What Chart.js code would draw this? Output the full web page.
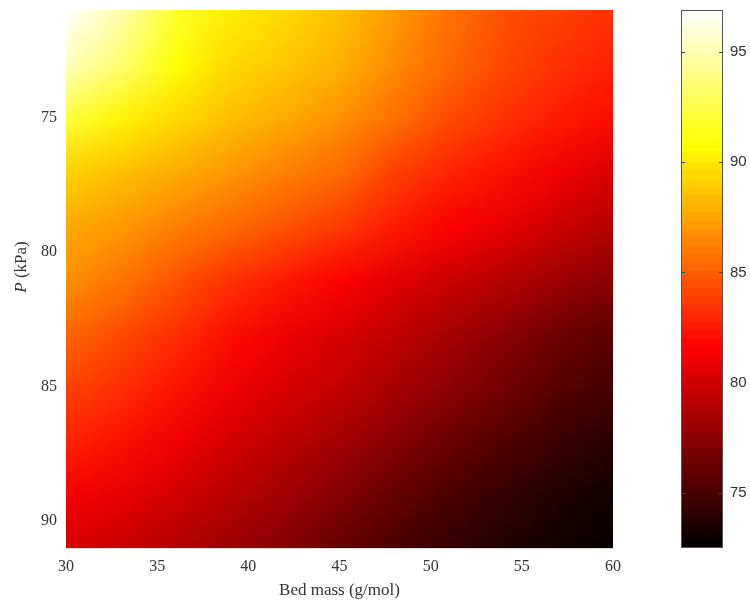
<!DOCTYPE html>
<html>
<head>
<meta charset="utf-8">
<script src="https://cdn.jsdelivr.net/npm/chart.js@4/dist/chart.umd.min.js"></script>
<style>
  html, body { margin: 0; padding: 0; background: #ffffff; }
  #wrap { position: relative; width: 750px; height: 605px; }
  #main { position: absolute; left: 0; top: 0; }
  #cbar { position: absolute; left: 650px; top: 0; }
</style>
</head>
<body>
<div id="wrap">
  <canvas id="main" width="650" height="605"></canvas>
  <canvas id="cbar" width="100" height="605"></canvas>
</div>
<script>
// ---- Data ----
const bedMass = [30, 33, 36, 39, 42, 45, 48, 51, 54, 57, 60];          // x (g/mol)
const pressure = [71, 73, 75, 77, 79, 81, 83, 85, 87, 89, 91];         // y (kPa)
// values at each (pressure row, bedMass column)
const row71 = [96.8, 94.8, 91.8, 90.2, 89.4, 88.5, 87.1, 85.7, 84.5, 83.9, 83.4];
const row73 = [95.2, 93.4, 90.8, 89.4, 88.8, 88.0, 86.6, 85.3, 84.2, 83.4, 82.8];
const row75 = [92.2, 90.4, 89.4, 88.5, 87.7, 86.8, 85.6, 84.3, 83.4, 82.6, 82.0];
const row77 = [89.2, 88.5, 87.8, 87.0, 86.2, 85.4, 83.9, 82.9, 82.2, 81.2, 80.2];
const row79 = [87.7, 87.1, 86.2, 85.4, 84.6, 83.7, 82.6, 81.6, 80.8, 79.8, 79.0];
const row81 = [86.8, 85.8, 84.6, 83.4, 82.5, 81.6, 80.6, 79.8, 79.0, 78.1, 77.4];
const row83 = [85.3, 84.3, 83.3, 82.1, 81.1, 80.3, 79.4, 78.4, 77.5, 76.5, 75.7];
const row85 = [84.0, 83.3, 82.3, 81.1, 80.3, 79.5, 78.5, 77.6, 76.6, 75.6, 74.9];
const row87 = [82.9, 82.2, 81.1, 80.1, 79.2, 78.3, 77.3, 76.3, 75.4, 74.6, 73.9];
const row89 = [81.3, 80.8, 80.0, 79.1, 78.2, 77.2, 76.1, 75.2, 74.4, 73.6, 73.1];
const row91 = [80.3, 79.7, 78.9, 78.1, 77.2, 76.1, 75.2, 74.4, 73.6, 73.1, 72.7];
const values = [row71, row73, row75, row77, row79, row81, row83, row85, row87, row89, row91];

const xTicks = [30, 35, 40, 45, 50, 55, 60];
const yTicks = [75, 80, 85, 90];
const cbarTicks = [75, 80, 85, 90, 95];
const cbarMin = 72.5;
const cbarMax = 96.9;

// ---- hot colormap ----
function clamp01(v) { return Math.max(0, Math.min(1, v)); }
function hotRGB(val) {
  const t = clamp01((val - cbarMin) / (cbarMax - cbarMin));
  const r = clamp01(t / 0.375);
  const g = clamp01((t - 0.375) / 0.375);
  const b = clamp01((t - 0.75) / 0.25);
  return [Math.round(r * 255), Math.round(g * 255), Math.round(b * 255)];
}

const points = [];
pressure.forEach((p, j) => bedMass.forEach((m, i) => points.push({ x: m, y: p, v: values[j][i] })));

function noPad(s) { s.paddingTop = 0; s.paddingBottom = 0; s.paddingLeft = 0; s.paddingRight = 0; }

const heatPlugin = {
  id: 'heat',
  beforeDatasetsDraw(chart) {
    const { ctx, chartArea, scales } = chart;
    const xs = scales.x, ys = scales.y;
    const data = chart.data.datasets[0].data;
    const nx = bedMass.length, ny = pressure.length;
    const off = document.createElement('canvas');
    off.width = nx; off.height = ny;
    const octx = off.getContext('2d');
    const img = octx.createImageData(nx, ny);
    data.forEach(pt => {
      const i = bedMass.indexOf(pt.x), j = pressure.indexOf(pt.y);
      const [r, g, b] = hotRGB(pt.v);
      const k = (j * nx + i) * 4;
      img.data[k] = r; img.data[k + 1] = g; img.data[k + 2] = b; img.data[k + 3] = 255;
    });
    octx.putImageData(img, 0, 0);
    const dx = bedMass[1] - bedMass[0], dy = pressure[1] - pressure[0];
    const left = xs.getPixelForValue(bedMass[0] - dx / 2);
    const right = xs.getPixelForValue(bedMass[nx - 1] + dx / 2);
    const top = ys.getPixelForValue(pressure[0] - dy / 2);
    const bottom = ys.getPixelForValue(pressure[ny - 1] + dy / 2);
    ctx.save();
    ctx.beginPath();
    ctx.rect(chartArea.left, chartArea.top, chartArea.right - chartArea.left, chartArea.bottom - chartArea.top);
    ctx.clip();
    ctx.imageSmoothingEnabled = true;
    ctx.imageSmoothingQuality = 'low';
    ctx.drawImage(off, left, top, right - left, bottom - top);
    ctx.restore();
  },
  afterDraw(chart) {
    // y-axis title with italic P
    const { ctx, chartArea } = chart;
    ctx.save();
    const cy = (chartArea.top + chartArea.bottom) / 2 - 12;
    ctx.translate(22, cy);
    ctx.rotate(-Math.PI / 2);
    ctx.fillStyle = '#333333';
    ctx.textBaseline = 'middle';
    const f1 = 'italic 17px "Liberation Serif"';
    const f2 = '17px "Liberation Serif"';
    ctx.font = f1; const w1 = ctx.measureText('P').width;
    ctx.font = f2; const w2 = ctx.measureText(' (kPa)').width;
    const start = -(w1 + w2) / 2;
    ctx.textAlign = 'left';
    ctx.font = f1; ctx.fillText('P', start, 0);
    ctx.font = f2; ctx.fillText(' (kPa)', start + w1, 0);
    ctx.restore();
  }
};

new Chart(document.getElementById('main'), {
  type: 'scatter',
  data: { datasets: [{ data: points, pointRadius: 0, pointHoverRadius: 0, showLine: false }] },
  options: {
    responsive: false,
    animation: false,
    events: [],
    layout: { padding: { top: 10, right: 37, left: 0, bottom: 0 } },
    plugins: { legend: { display: false }, tooltip: { enabled: false } },
    scales: {
      x: {
        type: 'linear', min: 30, max: 60,
        afterBuildTicks: s => { s.ticks = xTicks.map(v => ({ value: v })); },
        afterFit: s => { s.height = 57; noPad(s); },
        grid: { display: false, drawTicks: false },
        border: { display: true, color: '#d8d8d8', width: 1 },
        ticks: { padding: 9, color: '#333333', font: { family: '"Liberation Serif"', size: 16 }, maxRotation: 0 },
        title: { display: true, text: 'Bed mass (g/mol)', color: '#333333', font: { family: '"Liberation Serif"', size: 17 }, padding: { top: 0, bottom: 4 } }
      },
      y: {
        type: 'linear', min: 71, max: 91, reverse: true,
        afterBuildTicks: s => { s.ticks = yTicks.map(v => ({ value: v })); },
        afterFit: s => { s.width = 66; noPad(s); },
        grid: { display: false, drawTicks: false },
        border: { display: true, color: '#d8d8d8', width: 1 },
        ticks: { padding: 9, color: '#333333', font: { family: '"Liberation Serif"', size: 16 } }
      }
    }
  },
  plugins: [heatPlugin]
});

// ---- colorbar ----
const cbarPlugin = {
  id: 'cbarDraw',
  beforeDatasetsDraw(chart) {
    const { ctx, chartArea, scales } = chart;
    const ys = scales.y;
    const n = 64;
    ctx.save();
    for (let k = 0; k < n; k++) {
      const v0 = cbarMin + (cbarMax - cbarMin) * k / n;
      const v1 = cbarMin + (cbarMax - cbarMin) * (k + 1) / n;
      const [r, g, b] = hotRGB((v0 + v1) / 2);
      ctx.fillStyle = `rgb(${r},${g},${b})`;
      const yTop = ys.getPixelForValue(v1), yBot = ys.getPixelForValue(v0);
      ctx.fillRect(chartArea.left, Math.floor(yTop), chartArea.right - chartArea.left, Math.ceil(yBot) - Math.floor(yTop));
    }
    // outline
    ctx.strokeStyle = '#555555';
    ctx.lineWidth = 1;
    ctx.strokeRect(chartArea.left + 0.5, chartArea.top + 0.5, chartArea.right - chartArea.left - 1, chartArea.bottom - chartArea.top - 1);
    // inward tick marks
    ctx.strokeStyle = '#444444';
    cbarTicks.forEach(v => {
      const y = Math.round(ys.getPixelForValue(v)) + 0.5;
      ctx.beginPath();
      ctx.moveTo(chartArea.left, y); ctx.lineTo(chartArea.left + 4, y);
      ctx.moveTo(chartArea.right, y); ctx.lineTo(chartArea.right - 4, y);
      ctx.stroke();
    });
    ctx.restore();
  }
};

new Chart(document.getElementById('cbar'), {
  type: 'scatter',
  data: { datasets: [{ data: [], pointRadius: 0 }] },
  options: {
    responsive: false,
    animation: false,
    events: [],
    layout: { padding: { top: 10, left: 31, right: 0, bottom: 0 } },
    plugins: { legend: { display: false }, tooltip: { enabled: false } },
    scales: {
      x: { display: false, min: 0, max: 1, afterFit: s => { s.height = 57; noPad(s); } },
      y: {
        position: 'right', type: 'linear', min: cbarMin, max: cbarMax,
        afterBuildTicks: s => { s.ticks = cbarTicks.map(v => ({ value: v })); },
        afterFit: s => { s.width = 27; noPad(s); },
        grid: { display: false, drawTicks: false },
        border: { display: false },
        ticks: { padding: 7, color: '#333333', font: { family: '"Liberation Sans"', size: 15 } }
      }
    }
  },
  plugins: [cbarPlugin]
});
</script>
</body>
</html>
